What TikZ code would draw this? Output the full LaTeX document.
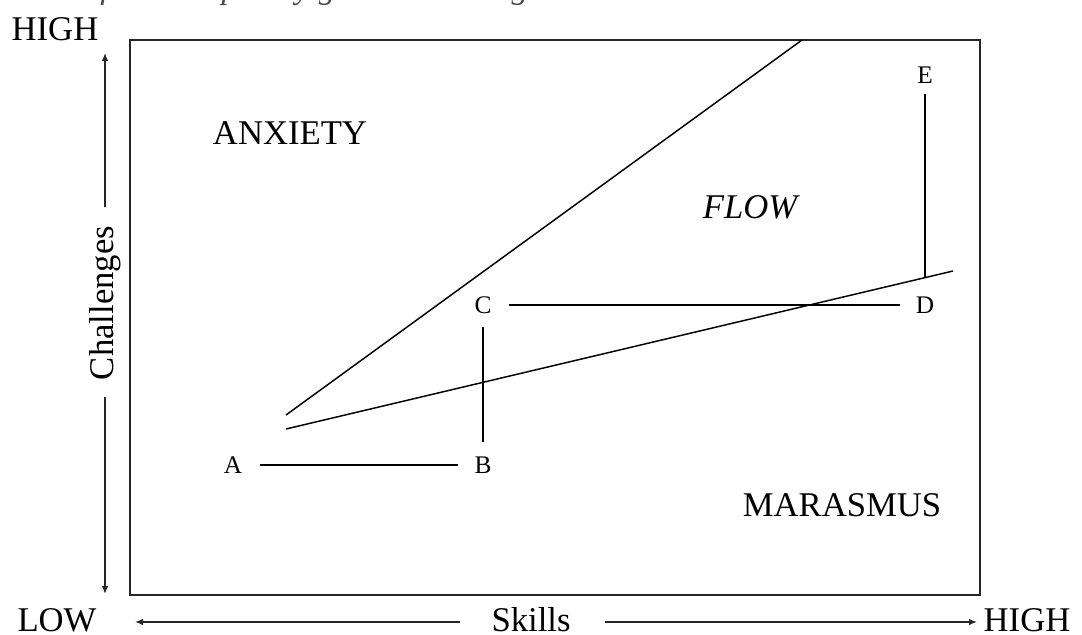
\documentclass[tikz,border=0pt]{standalone}
\usepackage{fontspec}
\setmainfont{Liberation Serif}
\usetikzlibrary{arrows.meta}
\begin{document}
\begin{tikzpicture}[x=0.75pt,y=-0.75pt,
  big/.style={font=\fontsize{26}{29}\selectfont, inner sep=0pt},
  pt/.style={font=\fontsize{19}{22}\selectfont, inner sep=0pt},
  ln/.style={line width=1.1pt, draw=black},
  arr/.style={line width=1.1pt, draw=black!85, -{Latex[length=6pt,width=5pt]}}]
\useasboundingbox (0,0) rectangle (1082,635);
% cropped caption line at the top
\node[anchor=base west, inner sep=0pt, font=\fontsize{25}{28}\selectfont\itshape, text=black!70] (cap) at (100,-1) {flow complexity grow according to};
% frame
\draw[line width=1.3pt, draw=black!85] (130,40) rectangle (980,595);
% axis labels
\node[big] (hightop) at (55,29) {HIGH};
\node[big] (low) at (57,620) {LOW};
\node[big] (highright) at (1027,620) {HIGH};
\node[big] (skills) at (531,620) {Skills};
\node[big, rotate=90] (chal) at (105,303) {Challenges};
\coordinate (vtop) at (105,53);
\coordinate (vbot) at (105,594);
\coordinate (vgap1) at (105,207);
\coordinate (vgap2) at (105,397);
\coordinate (hleft) at (135,622);
\coordinate (hright) at (977,622);
\coordinate (hgap1) at (460,622);
\coordinate (hgap2) at (605,622);
\draw[arr] (vgap1) -- (vtop);
\draw[arr] (vgap2) -- (vbot);
\draw[arr] (hgap1) -- (hleft);
\draw[arr] (hgap2) -- (hright);
% channel lines
\coordinate (u1) at (286,415);
\coordinate (u2) at (802,40);
\coordinate (l1) at (286,429);
\coordinate (l2) at (953,271);
\draw[ln] (u1) -- (u2);
\draw[ln] (l1) -- (l2);
% region labels
\node[big] (anx) at (290,133) {ANXIETY};
\node[big, font=\fontsize{26}{29}\selectfont\itshape] (flow) at (750,207) {FLOW};
\node[big] (mar) at (842,505) {MARASMUS};
% points
\node[pt] (A) at (233,465) {A};
\node[pt] (B) at (483,465) {B};
\node[pt] (C) at (483,305) {C};
\node[pt] (D) at (925,305) {D};
\node[pt] (E) at (925,75) {E};
\draw[ln] ([xshift=13pt]A.east) -- ([xshift=-12pt]B.west);
\draw[ln] ([yshift=11pt]B.north) -- ([yshift=-10pt]C.south);
\draw[ln] ([xshift=13pt]C.east) -- ([xshift=-12pt]D.west);
\draw[ln] ([yshift=-8pt]E.south) -- (925,278);
\end{tikzpicture}
\end{document}
